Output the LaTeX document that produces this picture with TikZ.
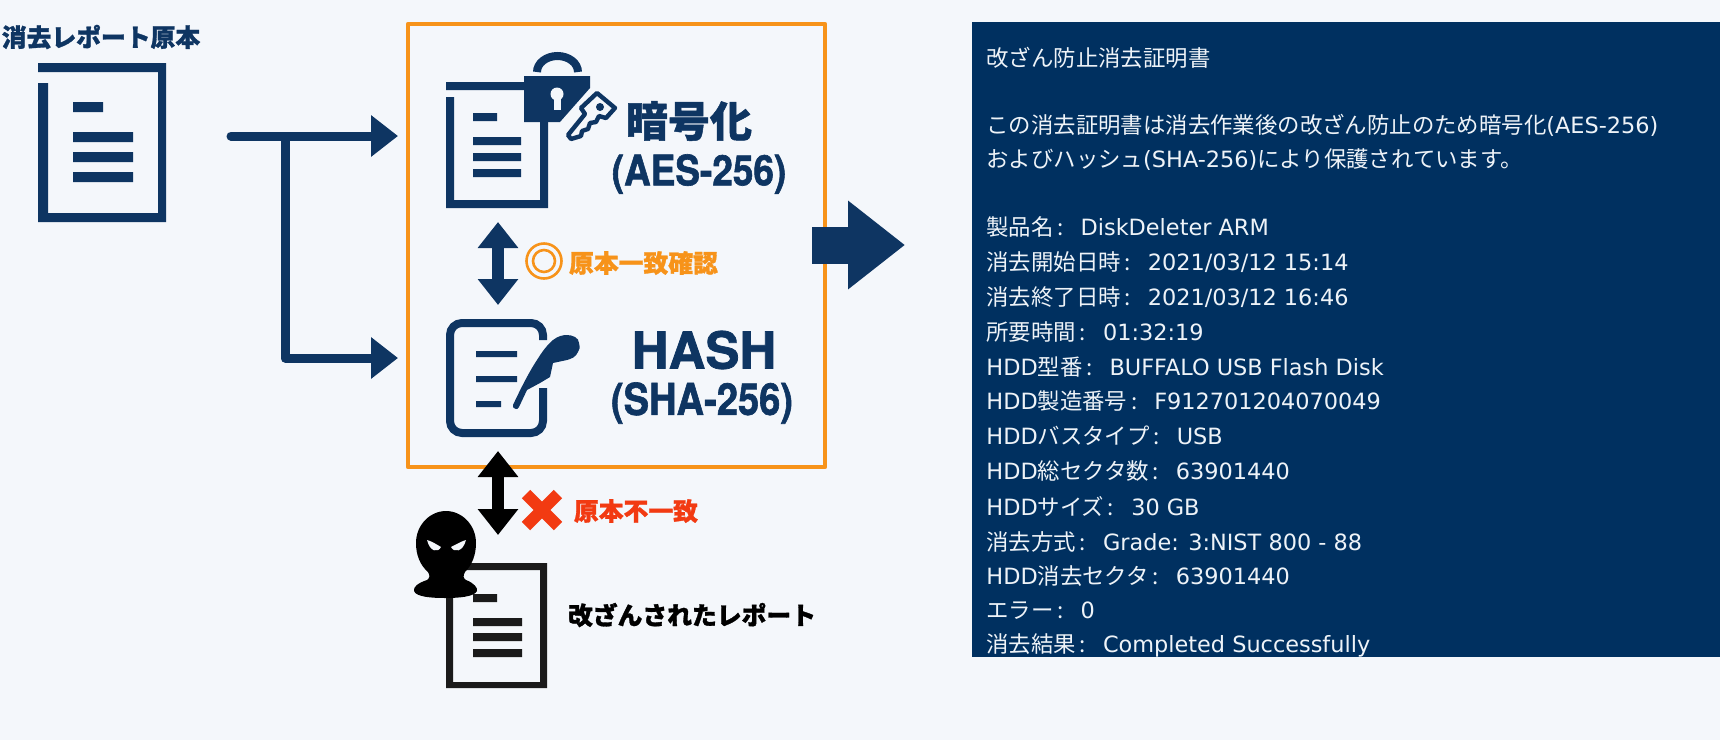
\documentclass[tikz,border=0pt]{standalone}
\usepackage{fontspec}
\usetikzlibrary{arrows.meta}
\setmainfont{DejaVu Sans}
\newfontfamily\cjk{Noto Sans CJK JP}[BoldFeatures={FakeBold=1.2}]
\newfontfamily\heros{TeX Gyre Heros}[BoldFeatures={FakeBold=1.5}]
\definecolor{navy}{HTML}{0E3562}
\definecolor{panel}{HTML}{003060}
\definecolor{bgc}{HTML}{F4F7FB}
\definecolor{orng}{HTML}{F7931A}
\definecolor{redx}{HTML}{F23A12}
\definecolor{ink}{HTML}{1A1A1A}
\definecolor{paneltxt}{HTML}{EEF3F8}
\newcommand{\J}[1]{{\cjk #1}}
\newcommand{\Cn}{\makebox[11.3pt][l]{\cjk\,:}\hspace{2.2pt}}
\tikzset{
  x=0.5pt,y=-0.5pt,
  navyfill/.style={fill=navy,draw=none},
  inkfill/.style={fill=ink,draw=none},
  titletext/.style={inner sep=0pt,anchor=center,font=\cjk\bfseries\fontsize{12.4}{14}\selectfont},
  paneltext/.style={inner sep=0pt,anchor=west,text=paneltxt,font=\fontsize{11.2}{13}\selectfont},
  flow/.style={draw=navy,line width=4.5pt,-{Triangle[length=13.5pt,width=20pt]}},
  twoway/.style={line width=6pt,{Triangle[length=13pt,width=19.5pt]}-{Triangle[length=13pt,width=19.5pt]}},
}
\begin{document}
\begin{tikzpicture}
\useasboundingbox (0,0) rectangle (1720,740);
\fill[bgc] (0,0) rectangle (1720,740);
% original document
\fill[navyfill] (38,63) -- (166,63) -- (166,222) -- (38,222) -- (38,83) -- (48,83) -- (48,213) -- (158,213) -- (158,72) -- (38,72) -- cycle;
\fill[navyfill] (73,102) rectangle (103,112) (73,132) rectangle (133,142) (73,152) rectangle (133,162) (73,172) rectangle (133,182);
\node[titletext,text=navy] (ttl) at (101,37) {消去レポート原本};
% flow
\coordinate (s) at (231,136);
\coordinate (b) at (285,136);
\coordinate (e1) at (398,136);
\coordinate (c) at (285,358);
\coordinate (e2) at (398,358);
\draw[flow,line cap=round] (s) -- (e1);
\draw[flow,line join=round] (b) -- (c) -- (e2);
% orange box
\draw[orng,line width=2.3pt,line join=round] (408,24) rectangle (825,467);
% encrypted doc
\fill[navyfill] (446,82) rectangle (527,90) (446,97) rectangle (454,208) (446,200) rectangle (548,208) (540,120) rectangle (548,208);
\fill[navyfill] (473,113) rectangle (497,121) (473,137) rectangle (521,145) (473,153) rectangle (521,161) (473,169) rectangle (521,177);
% lock
\draw[navy,line width=4pt] (537,72) arc[start angle=180,end angle=360,x radius=20.5,y radius=16];
\fill[navyfill] (524,76) -- (590,76) -- (590,88) -- (560,122) -- (524,122) -- cycle;
\fill[bgc] (557,94) circle (6.5);
\fill[bgc] (553.5,96) rectangle (560.5,110);
% key
\draw[navy,line width=2.2pt,line join=round,fill=bgc] (597,93) -- (615,108) -- (606,118) -- (599,116) -- (596,122) -- (590,123) -- (588,129) -- (582,131) -- (581,136) -- (571,139) -- (568,135) -- (585,114) -- (581,108) -- cycle;
\fill[navyfill] (600,107) circle (4);
\node[titletext,text=navy] (enc) at (689,121) {\fontsize{21}{24}\selectfont 暗号化};
\node[inner sep=0pt,text=navy] (aes) at (699,174) {\scalebox{.88}[1]{\heros\bfseries\fontsize{21}{24}\selectfont (AES-256)}};
% blue double arrow
\coordinate (d1) at (498,222);
\coordinate (d2) at (498,305);
\draw[twoway,navy] (d1) -- (d2);
\draw[orng,line width=1.3pt,fill=none] (544,261) circle (17.5) (544,261) circle (11);
\node[titletext,text=orng] (ok) at (643.5,263) {原本一致確認};
% hash doc
\draw[navy,line width=4pt,rounded corners=6pt] (543,340) -- (543,323) -- (450,323) -- (450,433) -- (543,433) -- (543,388);
\fill[navyfill] (476,351) rectangle (517,357) (476,376) rectangle (517,382) (476,401) rectangle (501,407);
% quill
\fill[navyfill] (516,409) .. controls (514,409) and (512,407) .. (513,405) .. controls (520,390) and (529,372) .. (537,360) .. controls (542,352) and (547,345) .. (553,340) .. controls (558,336) and (563,335) .. (567,335) .. controls (573,335) and (579,338) .. (579,343) .. controls (580,347) and (580,350) .. (578,352) .. controls (576,357) and (571,359) .. (567,360) -- (553,363) -- (550,377) -- (540,383) -- (527,390) -- (519,407) .. controls (518,409) and (517,409) .. (516,409) -- cycle;
\node[inner sep=0pt,text=navy] (hash) at (704,350) {\heros\bfseries\fontsize{25.5}{27}\selectfont HASH};
\node[inner sep=0pt,text=navy] (sha) at (702,403) {\scalebox{.865}[1]{\heros\bfseries\fontsize{22}{26}\selectfont (SHA-256)}};
% black double arrow
\coordinate (k1) at (498,451);
\coordinate (k2) at (498,535);
\draw[twoway,black] (k1) -- (k2);
% red cross
\draw[redx,line width=6pt] (526,494) -- (558,526) (558,494) -- (526,526);
\node[titletext,text=redx] (bad) at (636,511) {原本不一致};
% tampered doc
\fill[inkfill] (460,563) rectangle (547,570) (540,563) rectangle (547,688) (446,682) rectangle (547,688) (446,590) rectangle (453,688);
\fill[inkfill] (473,594) rectangle (497,602) (473,618) rectangle (522,626) (473,633) rectangle (522,641) (473,649) rectangle (522,657);
% masked person
\fill[black] (446,511) .. controls (462,511) and (476,525) .. (476,543) .. controls (476,555) and (472,565) .. (465,572) .. controls (463,576) and (463,578) .. (466,580) .. controls (474,583) and (478,588) .. (477,591) .. controls (474,597) and (458,598) .. (445,598) .. controls (432,598) and (416,597) .. (414,591) .. controls (413,587) and (418,583) .. (427,580) .. controls (430,578) and (430,575) .. (428,572) .. controls (420,565) and (416,555) .. (416,543) .. controls (416,525) and (430,511) .. (446,511) -- cycle;
\fill[bgc] (427,540) .. controls (431,541) and (436,544) .. (441,547) .. controls (438,553) and (430,552) .. (427,540) -- cycle;
\fill[bgc] (466,540) .. controls (462,541) and (457,544) .. (451,547) .. controls (454,553) and (463,552) .. (466,540) -- cycle;
\node[titletext,text=black] (tam) at (692,615) {改ざんされたレポート};
% big arrow
\coordinate (g1) at (812,245);
\coordinate (g2) at (905,245);
\draw[navy,line width=18.5pt,-{Triangle[length=28.5pt,width=42.5pt]}] (g1) -- (g2);
% panel
\fill[panel] (972,22) rectangle (1720,657);
\begin{scope}
\clip (972,22) rectangle (1720,657);
\node[paneltext] (p0) at (986,58) {\J{改ざん防止消去証明書}};
\node[paneltext] (p1) at (986,125) {\J{この消去証明書は消去作業後の改ざん防止のため暗号化}(AES-256)};
\node[paneltext] (p2) at (986,160) {\J{およびハッシュ}(SHA-256)\J{により保護されています。}};
\node[paneltext] (p3) at (986,227) {\J{製品名}\Cn DiskDeleter ARM};
\node[paneltext] (p4) at (986,262) {\J{消去開始日時}\Cn 2021/03/12 15:14};
\node[paneltext] (p5) at (986,297) {\J{消去終了日時}\Cn 2021/03/12 16:46};
\node[paneltext] (p6) at (986,332) {\J{所要時間}\Cn 01:32:19};
\node[paneltext] (p7) at (986,367) {HDD\J{型番}\Cn BUFFALO USB Flash Disk};
\node[paneltext] (p8) at (986,401) {HDD\J{製造番号}\Cn F912701204070049};
\node[paneltext] (p9) at (986,436) {HDD\J{バスタイプ}\Cn USB};
\node[paneltext] (p10) at (986,471) {HDD\J{総セクタ数}\Cn 63901440};
\node[paneltext] (p11) at (986,506) {HDD\J{サイズ}\Cn 30 GB};
\node[paneltext] (p12) at (986,542) {\J{消去方式}\Cn Grade: 3:NIST 800 - 88};
\node[paneltext] (p13) at (986,576) {HDD\J{消去セクタ}\Cn 63901440};
\node[paneltext] (p14) at (986,611) {\J{エラー}\Cn 0};
\node[paneltext] (p15) at (986,645) {\J{消去結果}\Cn Completed Successfully};
\end{scope}
\end{tikzpicture}
\end{document}
